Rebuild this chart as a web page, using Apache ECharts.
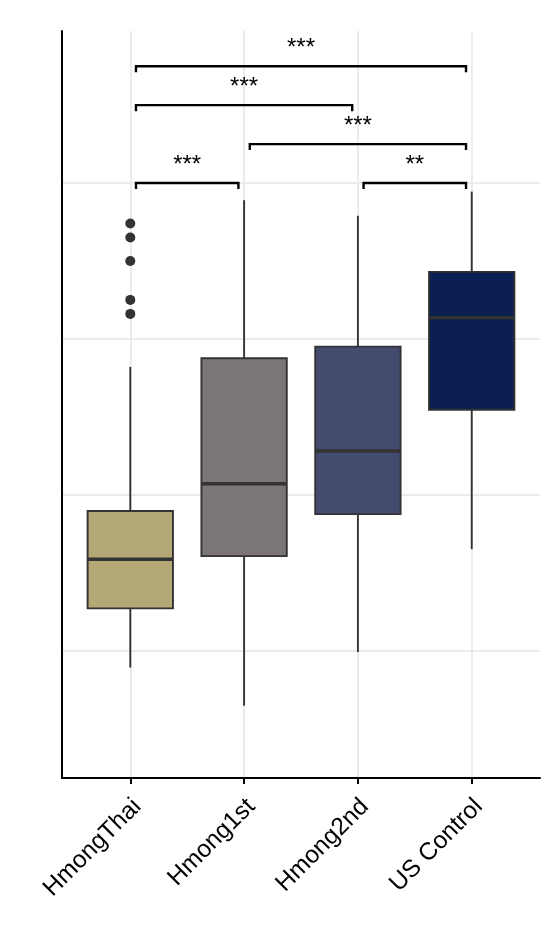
<!DOCTYPE html>
<html>
<head>
<meta charset="utf-8">
<script src="https://cdn.jsdelivr.net/npm/echarts@6/dist/echarts.min.js"></script>
<style>
html,body{margin:0;padding:0;background:#fff;}
#chart{width:542px;height:933px;}
</style>
</head>
<body>
<div id="chart"></div>
<script>
// ---- data ----
const categories = ['HmongThai', 'Hmong1st', 'Hmong2nd', 'US Control'];
const whiskerLow  = [0.89, 0.645, 0.99, 1.65];
const q1          = [1.27, 1.605, 1.875, 2.545];
const median      = [1.585, 2.07, 2.28, 3.135];
const q3          = [1.895, 2.875, 2.95, 3.43];
const whiskerHigh = [2.82, 3.89, 3.79, 3.945];
const outlierGroup = [1, 1, 1, 1, 1];
const outlierValues = [3.74, 3.65, 3.50, 3.25, 3.16];
// significance comparisons: group a, group b, bracket height, label
const compA = [1, 3, 2, 1, 1];
const compB = [2, 4, 4, 3, 4];
const compY = [4.0, 4.0, 4.25, 4.5, 4.75];
const compLabel = ['***', '**', '***', '***', '***'];
const yTicks = [1, 2, 3, 4];
const xTicks = [1, 2, 3, 4];

// ---- styles ----
const boxColors = ['#b4a877', '#7b7479', '#444b6f', '#0c1f52'];
const FONT = 'Liberation Sans, Arial, Helvetica, sans-serif';
const BOX_W = 0.75;
const INSET = 0.05;

const boxData = categories.map((c, i) => [i + 1, whiskerLow[i], q1[i], median[i], q3[i], whiskerHigh[i]]);
const outlierData = outlierValues.map((v, i) => [outlierGroup[i], v]);
const bracketData = compA.map((a, i) => [a, compB[i], compY[i], i]);

const chart = echarts.init(document.getElementById('chart'), null, {renderer: 'canvas'});

function renderBox(params, api) {
  const x = api.value(0);
  const lo = api.coord([x, api.value(1)]);
  const b1 = api.coord([x, api.value(2)]);
  const md = api.coord([x, api.value(3)]);
  const b3 = api.coord([x, api.value(4)]);
  const hi = api.coord([x, api.value(5)]);
  const hw = api.size([BOX_W, 0])[0] / 2;
  const cx = lo[0];
  const stroke = '#333333';
  return {
    type: 'group',
    children: [
      {type: 'line', shape: {x1: cx, y1: lo[1], x2: cx, y2: b1[1]}, style: {stroke: stroke, lineWidth: 1.9}},
      {type: 'line', shape: {x1: cx, y1: b3[1], x2: cx, y2: hi[1]}, style: {stroke: stroke, lineWidth: 1.9}},
      {type: 'rect', shape: {x: cx - hw, y: b3[1], width: hw * 2, height: b1[1] - b3[1]},
        style: {fill: boxColors[params.dataIndex], stroke: stroke, lineWidth: 1.9}},
      {type: 'line', shape: {x1: cx - hw, y1: md[1], x2: cx + hw, y2: md[1]}, style: {stroke: stroke, lineWidth: 3.6}}
    ]
  };
}

function renderBracket(params, api) {
  const a = api.value(0), b = api.value(1), y = api.value(2);
  const idx = api.value(3);
  const p1 = api.coord([a + INSET, y]);
  const p2 = api.coord([b - INSET, y]);
  const tip = 6;
  return {
    type: 'group',
    children: [
      {type: 'polyline', shape: {points: [[p1[0], p1[1] + tip], [p1[0], p1[1]], [p2[0], p2[1]], [p2[0], p2[1] + tip]]},
        style: {stroke: '#000', lineWidth: 2.4, fill: null}},
      {type: 'text', x: (p1[0] + p2[0]) / 2, y: p1[1] - 17.5,
        style: {text: compLabel[idx], fill: '#000', font: '24px ' + FONT, align: 'center', verticalAlign: 'middle'}}
    ]
  };
}

chart.setOption({
  animation: false,
  backgroundColor: '#ffffff',
  grid: {left: 62, right: 2, top: 31, bottom: 155, containLabel: false},
  xAxis: {
    type: 'value', min: 0.4, max: 4.6,
    axisLine: {show: true, lineStyle: {color: '#000', width: 2}},
    axisTick: {show: true, customValues: xTicks, length: 6, lineStyle: {color: '#000', width: 2}},
    axisLabel: {show: true, customValues: xTicks, rotate: 45, margin: 32, padding: [0, -10, 0, 0],
      formatter: v => categories[Math.round(v) - 1] || '',
      fontSize: 24.5, color: '#000', fontFamily: FONT},
    splitLine: {show: true, lineStyle: {color: '#ebebeb', width: 2}}
  },
  yAxis: {
    type: 'value', min: 0.181, max: 4.976,
    axisLine: {show: true, lineStyle: {color: '#000', width: 2}},
    axisTick: {show: false, customValues: yTicks},
    axisLabel: {show: false, customValues: yTicks},
    splitLine: {show: true, lineStyle: {color: '#ebebeb', width: 2}}
  },
  series: [
    {type: 'custom', renderItem: renderBox, data: boxData, encode: {x: 0, y: [1, 2, 3, 4, 5]}, z: 3},
    {type: 'scatter', data: outlierData, symbolSize: 10, itemStyle: {color: '#333333', opacity: 1}, z: 4},
    {type: 'custom', renderItem: renderBracket, data: bracketData, encode: {x: [0, 1], y: 2}, clip: false, z: 5}
  ]
});
</script>
</body>
</html>
